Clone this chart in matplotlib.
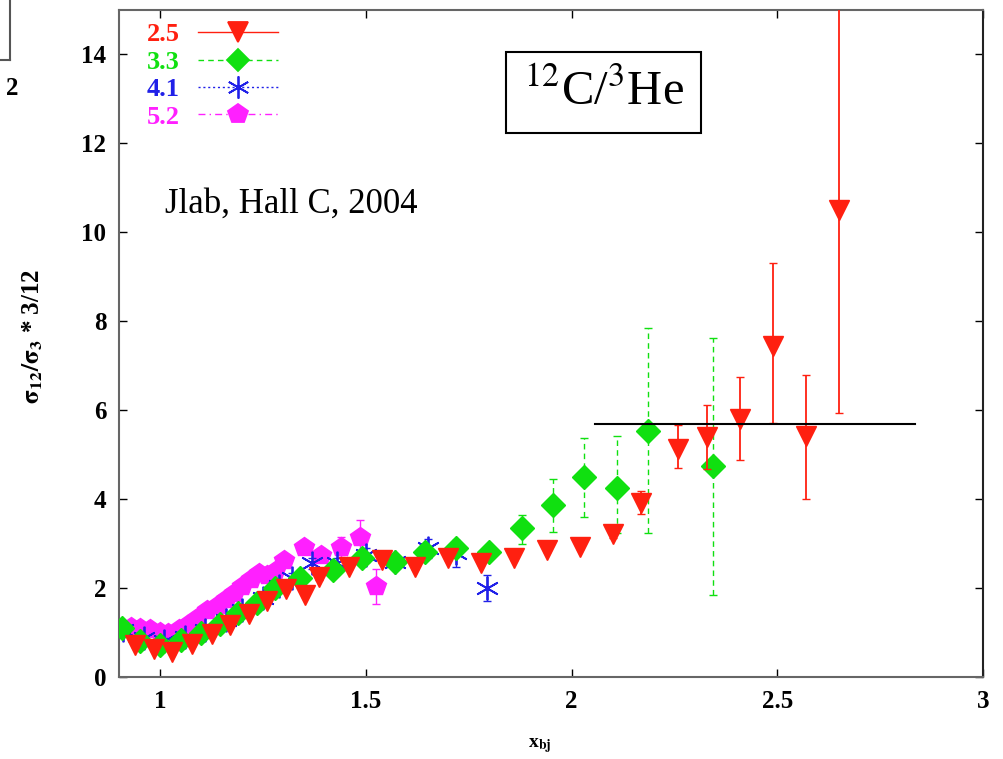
import matplotlib
matplotlib.use("Agg")
import matplotlib.pyplot as plt
from matplotlib.lines import Line2D
import numpy as np

plt.rcParams['font.family'] = ['Liberation Serif', 'DejaVu Serif']
plt.rcParams['mathtext.fontset'] = 'stix'

# ---- data ----
red_x = [0.94, 0.985, 1.03, 1.077, 1.125, 1.17, 1.215, 1.26, 1.305, 1.352,
         1.385, 1.46, 1.54, 1.62, 1.70, 1.78, 1.86, 1.94, 2.02, 2.10, 2.17,
         2.26, 2.33, 2.41, 2.49, 2.57, 2.65]
red_y = [0.72, 0.62, 0.56, 0.74, 0.96, 1.18, 1.42, 1.72, 1.98, 1.84,
         2.24, 2.47, 2.62, 2.47, 2.67, 2.56, 2.67, 2.85, 2.92, 3.22, 3.92,
         5.13, 5.40, 5.80, 7.44, 5.43, 10.5]
red_lo = [0.04]*10 + [0.05]*9 + [0.10, 0.25, 0.44, 0.72, 0.93, 1.72, 1.43, 4.56]
red_hi = [0.04]*10 + [0.05]*9 + [0.10, 0.26, 0.54, 0.72, 0.95, 1.86, 1.37, 4.60]

green_x = [0.907, 0.95, 1.0, 1.05, 1.10, 1.146, 1.19, 1.235, 1.28,
           1.34, 1.42, 1.49, 1.57, 1.645, 1.72, 1.80, 1.88, 1.955, 2.03,
           2.11, 2.186, 2.344]
green_y = [1.1, 0.8, 0.72, 0.83, 0.98, 1.2, 1.43, 1.66, 2.0,
           2.22, 2.4, 2.67, 2.58, 2.8, 2.89, 2.8, 3.34, 3.86, 4.49,
           4.24, 5.54, 4.75]
green_lo = [0.05]*9 + [0.1]*7 + [0.34, 0.61, 0.90, 1.01, 2.31, 2.91]
green_hi = [0.05]*9 + [0.1]*7 + [0.31, 0.60, 0.89, 1.19, 2.31, 2.87]

blue_x = [0.91, 0.96, 1.01, 1.06, 1.11, 1.16, 1.20, 1.25, 1.29,
          1.32, 1.37, 1.43, 1.50, 1.57, 1.65, 1.72, 1.795]
blue_y = [1.05, 0.88, 0.82, 0.90, 1.06, 1.28, 1.50, 1.78, 2.05,
          2.22, 2.56, 2.56, 2.74, 2.58, 2.89, 2.78, 2.00]
blue_err = [0.05]*9 + [0.12, 0.12, 0.12, 0.15, 0.15, 0.22, 0.30, 0.30]

mag_x = [0.93, 0.95, 0.975, 1.0, 1.02, 1.045, 1.066, 1.09, 1.114, 1.14,
         1.16, 1.18, 1.20, 1.22, 1.24, 1.26, 1.28, 1.30, 1.35, 1.39,
         1.44, 1.486, 1.525]
mag_y = [1.12, 1.10, 1.08, 1.02, 1.00, 1.08, 1.18, 1.33, 1.50, 1.62,
         1.75, 1.90, 2.05, 2.20, 2.35, 2.30, 2.38, 2.62, 2.92, 2.74,
         2.92, 3.14, 2.04]
mag_err = [0.06]*17 + [0.10, 0.15, 0.15, 0.22, 0.40, 0.40]

ref_line_x = [2.057, 2.835]
ref_line_y = [5.7, 5.7]

labels = ['2.5', '3.3', '4.1', '5.2']
colors = ['#ff2010', '#10e010', '#2020e8', '#ff20ff']

xticks = [1, 1.5, 2, 2.5, 3]
xticklabels = ['1', '1.5', '2', '2.5', '3']
yticks = [0, 2, 4, 6, 8, 10, 12, 14]

# ---- figure ----
fig = plt.figure(figsize=(10.04, 7.59), dpi=100)
ax = fig.add_axes([0.1185, 0.108, 0.8605, 0.879])

ax.errorbar(mag_x, mag_y, yerr=mag_err, fmt='p', color=colors[3], ms=15,
            mec=colors[3], elinewidth=1, capsize=3, ls='none', zorder=2)
ax.errorbar(blue_x, blue_y, yerr=blue_err, fmt='none', ecolor=colors[2],
            elinewidth=1, capsize=3, zorder=3)
ax.plot(blue_x, blue_y, ls='none', marker=(6, 2, 0), ms=17, mew=1.3,
        color=colors[2], zorder=3)
eb = ax.errorbar(green_x, green_y, yerr=[green_lo, green_hi], fmt='D',
                 color=colors[1], ms=12, elinewidth=1, capsize=3, zorder=4)
for lc in eb[2]:
    lc.set_linestyle((0, (4, 3)))
ax.errorbar(red_x, red_y, yerr=[red_lo, red_hi], fmt='v', color=colors[0],
            ms=14, elinewidth=1.3, capsize=3, zorder=5)

ax.plot(ref_line_x, ref_line_y, color='black', lw=1.5, zorder=6)

ax.set_xlim(0.9, 3)
ax.set_ylim(0, 15)
ax.set_xticks(xticks)
ax.set_xticklabels(xticklabels)
ax.set_yticks(yticks)
ax.tick_params(direction='in', length=6, width=1, top=True, right=True,
               labelsize=18, pad=9)
for lab in ax.get_xticklabels() + ax.get_yticklabels():
    lab.set_fontweight('bold')
for s in ['left', 'top', 'bottom']:
    ax.spines[s].set_color('#666666')
    ax.spines[s].set_linewidth(1.5)
ax.spines['right'].set_color('#222222')
ax.spines['right'].set_linewidth(1.5)

ax.set_ylabel(r'$\mathbf{\sigma_{12}/\sigma_{3}}$ * 3/12', fontsize=18,
              fontweight='bold')
ax.yaxis.set_label_coords(-0.086, 0.51)
ax.set_xlabel(r'x$_{\mathbf{bj}}$', fontsize=14, fontweight='bold')
ax.xaxis.set_label_coords(0.487, -0.088)

# legend
styles = ['-', (0, (4, 3)), (0, (1.5, 2)), (0, (5, 3, 1, 3))]
markers = ['v', 'D', (6, 2, 0), 'p']
msizes = [14, 11, 16, 15]
handles = [Line2D([0], [0], color=c, ls=s, lw=1, marker=m, ms=ms, mew=1.3)
           for c, s, m, ms in zip(colors, styles, markers, msizes)]
leg = ax.legend(handles, labels, loc='upper left', bbox_to_anchor=(0.008, 1.012),
                markerfirst=False, frameon=False, handlelength=3.0,
                handletextpad=0.7, labelspacing=0.15, borderpad=0.3,
                prop={'family': 'Liberation Serif', 'weight': 'bold', 'size': 19})
for t, c in zip(leg.get_texts(), colors):
    t.set_color(c)

ax.text(0.053, 0.708, 'Jlab, Hall C, 2004', transform=ax.transAxes,
        fontsize=25, va='center', ha='left')
ax.text(0.561, 0.876, r'$^{12}$C/$^{3}$He', transform=ax.transAxes,
        fontsize=35, va='center', ha='center',
        bbox=dict(boxstyle='square,pad=0.36', fc='white', ec='black', lw=1.5))

# fragment of the neighbouring panel at the top-left corner
fig.add_artist(Line2D([0.010, 0.010], [1.0, 0.921], color='#555555', lw=1.5))
fig.add_artist(Line2D([0.0, 0.010], [0.921, 0.921], color='#555555', lw=1.5))
fig.text(0.012, 0.884, '2', fontsize=18, fontweight='bold', ha='center',
         va='center')

fig.savefig('out.png', dpi=100)
